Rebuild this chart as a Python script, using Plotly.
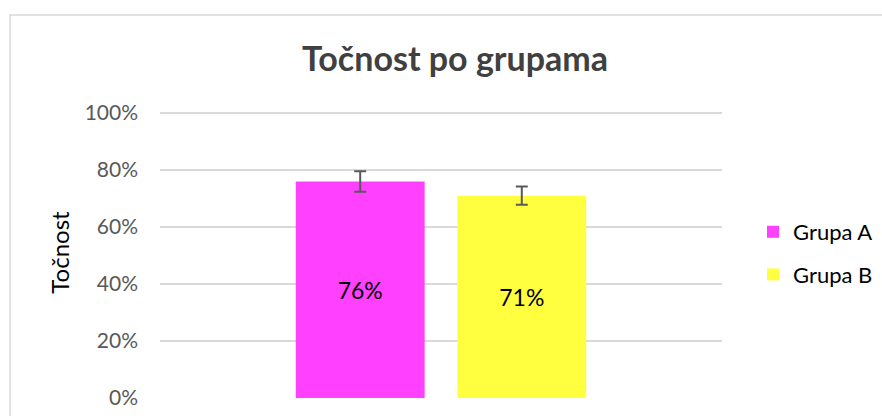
import plotly.graph_objects as go

categories = ["Točnost"]
series_names = ["Grupa A", "Grupa B"]
values = [0.76, 0.71]
errors = [0.036, 0.032]
colors = ["#FF40FF", "#FFFF40"]
labels = ["76%", "71%"]
tick_vals = [0, 0.2, 0.4, 0.6, 0.8, 1.0]
tick_text = ["0%", "20%", "40%", "60%", "80%", "100%"]

FONT = "Lato"
W, H = 882, 416
YMAX = 1.021
L, R, B = 160, 160, 18
ph_unit = 285.0  # pixels for 0..100%
T = round(H - B - ph_unit * YMAX)
pw, ph = W - L - R, H - T - B

fig = go.Figure()
for i, name in enumerate(series_names):
    fig.add_trace(go.Bar(
        x=categories, y=[values[i]], name=name,
        marker=dict(color=colors[i], line=dict(width=0)),
        error_y=dict(type="data", array=[errors[i]], visible=True,
                     color="#595959", thickness=2, width=6),
        text=[labels[i]], textposition="inside", insidetextanchor="middle",
        textfont=dict(family=FONT, size=23, color="#000000"),
        legendgroup=name, cliponaxis=False,
    ))

def px(x):
    return (x - L) / pw

def py(y):
    return (H - B - y) / ph

fig.add_shape(type="rect", xref="paper", yref="paper",
              x0=px(10), y0=py(460), x1=px(930), y1=py(15),
              line=dict(color="#D9D9D9", width=1.5), fillcolor="rgba(0,0,0,0)", layer="below")

fig.update_layout(
    width=W, height=H,
    margin=dict(l=L, r=R, t=T, b=B, autoexpand=False),
    paper_bgcolor="white", plot_bgcolor="white",
    barmode="group", bargap=0.425, bargroupgap=0.2025,
    title=dict(text="<b>Točnost po grupama</b>", x=455 / W, xanchor="center",
               y=1 - 59 / H, yanchor="middle",
               font=dict(family=FONT, size=34, color="#404040")),
    font=dict(family=FONT, color="#404040"),
    xaxis=dict(showticklabels=False, showgrid=False, zeroline=False, showline=False),
    yaxis=dict(range=[0, YMAX], tickvals=tick_vals, ticktext=tick_text,
               showgrid=True, gridcolor="#D9D9D9", gridwidth=1.5,
               zeroline=False, showline=False, ticks="", ticklen=0,
               ticklabelstandoff=21,
               tickfont=dict(family=FONT, size=21, color="#595959"),
               title=dict(text="Točnost", font=dict(family=FONT, size=24, color="#000000"),
                          standoff=8)),
    legend=dict(x=px(753), y=py(211), xanchor="left", yanchor="top",
                font=dict(family=FONT, size=22, color="#000000"),
                tracegroupgap=11, bgcolor="rgba(0,0,0,0)"),
    showlegend=True,
)

fig.write_html("out.html", config={"displayModeBar": False},
               post_script="document.body.style.margin='0';document.body.style.overflow='hidden';")
